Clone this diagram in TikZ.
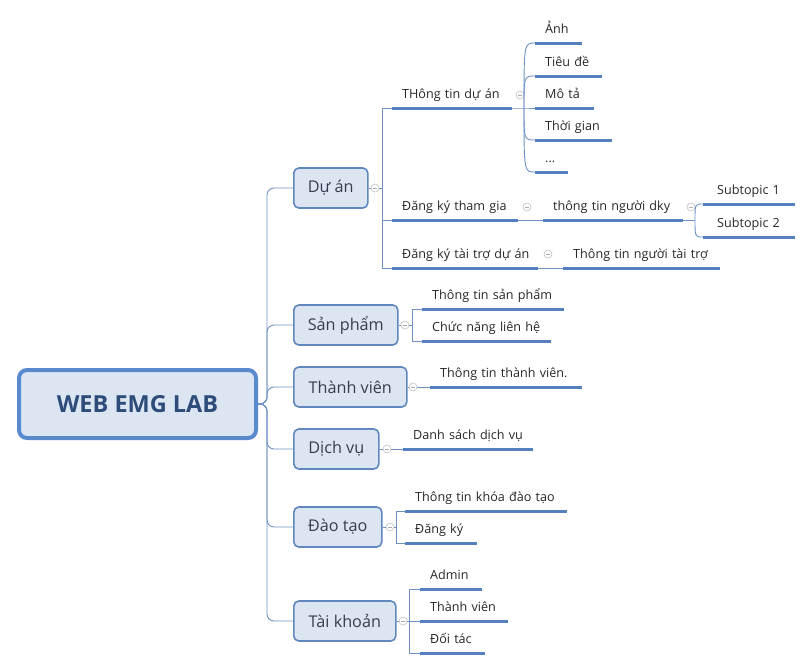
\documentclass[tikz,border=0pt]{standalone}
\usepackage{fontspec}
\newfontfamily\uifont{Open Sans}
\usetikzlibrary{positioning}
\definecolor{boxfill}{RGB}{220,230,242}
\definecolor{boxline}{RGB}{96,135,190}
\definecolor{rootline}{RGB}{88,138,205}
\definecolor{linkcol}{RGB}{110,145,195}
\definecolor{ulcol}{RGB}{85,128,192}
\definecolor{roottext}{RGB}{46,76,122}
\definecolor{maintext}{RGB}{52,62,80}
\tikzset{
  root/.style={draw=rootline,line width=4pt,fill=boxfill,rounded corners=8pt,minimum width=237pt,minimum height=68pt,font=\uifont\bfseries\fontsize{23.5}{26}\selectfont,text=roottext},
  topic/.style={draw=boxline,line width=1.6pt,fill=boxfill,rounded corners=5pt,anchor=west,minimum height=40pt,inner xsep=4pt,font=\uifont\fontsize{16.2}{19}\selectfont,text=maintext},
  leaf/.style={anchor=south west,inner xsep=10pt,inner ysep=0pt,text height=9pt,text depth=9pt,align=left,font=\uifont\fontsize{12.6}{14}\selectfont,text=black!85},
  fold/.style={circle,draw=gray!50,line width=0.6pt,minimum size=8pt,inner sep=0pt,
    path picture={\draw[gray!65,line width=0.6pt] ([xshift=-2pt]path picture bounding box.center) -- ([xshift=2pt]path picture bounding box.center);}},
  link/.style={draw=linkcol,line width=0.9pt},
  uline/.style={draw=ulcol,line width=3pt}
}
\begin{document}
\begin{tikzpicture}[x=1pt,y=-1pt]
		\useasboundingbox (0,0) rectangle (812,670);
		\node[root] (web) at (137.5,404) {WEB EMG LAB};
		\node[topic,minimum width=74pt] (duan) at (293,188) {Dự án};
		\node[topic,minimum width=104pt] (sanpham) at (293,325) {Sản phẩm};
		\node[topic,minimum width=113pt] (thanhvien) at (293,387) {Thành viên};
		\node[topic,minimum width=85pt] (dichvu) at (293,449) {Dịch vụ};
		\node[topic,minimum width=88pt] (daotao) at (293,527) {Đào tạo};
		\node[topic,minimum width=102pt] (taikhoan) at (293,621) {Tài khoản};
		\coordinate[] (trunk) at (267,404);
		\coordinate[] (bduan) at (382,188);
		\coordinate[] (fan1) at (524,108);
		\coordinate[] (fan2) at (695,220);
		\coordinate[] (bsp) at (412,325);
		\coordinate[] (bdt) at (396,527);
		\coordinate[] (btk) at (409,621);
		\node[fold] (fduan) at (375,188) {};
		\node[fold] (fsp) at (405,325) {};
		\node[fold] (ftv) at (413,387) {};
		\node[fold] (fdv) at (387,449) {};
		\node[fold] (fdt) at (390,527) {};
		\node[fold] (ftk) at (403,621) {};
		\node[fold] (fc1) at (520,95) {};
		\node[fold] (fc2) at (527,207) {};
		\node[fold] (fc3) at (548,254) {};
		\node[fold] (fe1) at (691,207) {};
		\node[leaf,text width=100pt] (c1) at (392,108) {THông tin dự án};
		\node[leaf,text width=106pt] (c2) at (392,220) {Đăng ký tham gia};
		\node[leaf,text width=126pt] (c3) at (392,268) {\mbox{Đăng ký tài trợ dự án}};
		\node[leaf,text width=27pt] (d1) at (535,43) {Ảnh};
		\node[leaf,text width=47pt] (d2) at (535,76) {Tiêu đề};
		\node[leaf,text width=39pt] (d3) at (535,108) {Mô tả};
		\node[leaf,text width=57pt] (d4) at (535,140) {\mbox{Thời gian}};
		\node[leaf,text width=13pt] (d5) at (535,172) {...};
		\node[leaf,text width=120pt] (e1) at (543,220) {thông tin người dky};
		\node[leaf,inner xsep=14pt,text width=64pt] (f1) at (703,204) {Subtopic 1};
		\node[leaf,inner xsep=14pt,text width=64pt] (f2) at (703,237) {Subtopic 2};
		\node[leaf,text width=137pt] (g1) at (563,268) {\mbox{Thông tin người tài trợ}};
		\node[leaf,text width=122pt] (h1) at (422,309) {Thông tin sản phẩm};
		\node[leaf,text width=109pt] (h2) at (422,341) {Chức năng liên hệ};
		\node[leaf,text width=132pt] (i1) at (430,387) {Thông tin thành viên.};
		\node[leaf,text width=110pt] (j1) at (403,449) {\mbox{Danh sách dịch vụ}};
		\node[leaf,text width=142pt] (k1) at (405,511) {\mbox{Thông tin khóa đào tạo}};
		\node[leaf,text width=52pt] (k2) at (405,543) {Đăng ký};
		\node[leaf,text width=42pt] (m1) at (420,589) {Admin};
		\node[leaf,text width=68pt] (m2) at (420,621) {\mbox{Thành viên}};
		\node[leaf,text width=45pt] (m3) at (420,653) {Đối tác};
		\foreach \t in {duan,sanpham,thanhvien,dichvu,daotao,taikhoan}
			\draw[link,rounded corners=7pt] (web.east) -- (trunk) |- (\t.west);
		\draw[link] (duan.east) -- (fduan.west) (fduan.east) -- (bduan);
		\foreach \n in {c1,c2,c3}
			\draw[link] (bduan) |- (\n.south west);
		\draw[link] (c1.south east) -- (fan1) -- (d3.south west);
		\foreach \n in {d1,d2,d4,d5}
			\draw[link] (fan1) .. controls (fan1 |- \n.south west) .. (\n.south west);
		\draw[link] (c2.south east) -- (e1.south west);
		\draw[link] (e1.south east) -- (fan2);
		\foreach \n in {f1,f2}
			\draw[link] (fan2) .. controls (fan2 |- \n.south west) .. (\n.south west);
		\draw[link] (c3.south east) -- (g1.south west);
		\draw[link] (sanpham.east) -- (fsp.west) (fsp.east) -- (bsp);
		\foreach \n in {h1,h2}
			\draw[link] (bsp) |- (\n.south west);
		\draw[link] (thanhvien.east) -- (ftv.west) (ftv.east) -- (i1.south west);
		\draw[link] (dichvu.east) -- (fdv.west) (fdv.east) -- (j1.south west);
		\draw[link] (daotao.east) -- (fdt.west) (fdt.east) -- (bdt);
		\foreach \n in {k1,k2}
			\draw[link] (bdt) |- (\n.south west);
		\draw[link] (taikhoan.east) -- (ftk.west) (ftk.east) -- (btk);
		\foreach \n in {m1,m2,m3}
			\draw[link] (btk) |- (\n.south west);
		\foreach \n in {c1,c2,c3,d1,d2,d3,d4,d5,e1,f1,f2,g1,h1,h2,i1,j1,k1,k2,m1,m2,m3}
			\draw[uline] (\n.south west) -- (\n.south east);
\end{tikzpicture}
\end{document}
